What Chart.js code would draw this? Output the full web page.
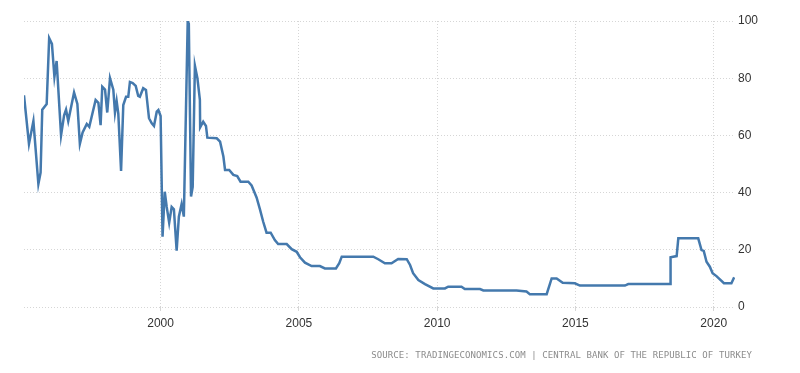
<!DOCTYPE html>
<html lang="en">
  <head>
    <meta charset="UTF-8" />
    <title>Turkey Interest Rate</title>
    <script src="https://cdn.jsdelivr.net/npm/chart.js"></script>
    <style>
      body {
        margin: 0;
        background: #fff;
      }
      #wrap {
        position: relative;
        width: 800px;
        height: 373px;
      }
      #source {
        position: absolute;
        right: 48px;
        top: 350px;
        font-family: "DejaVu Sans Mono", monospace;
        font-size: 9px;
        letter-spacing: 0.1px;
        color: #8c8c8c;
        white-space: nowrap;
      }
    </style>
  </head>
  <body>
    <div id="wrap">
      <canvas id="rateChart"></canvas>
      <div id="source">SOURCE: TRADINGECONOMICS.COM | CENTRAL BANK OF THE REPUBLIC OF TURKEY</div>
    </div>

    <script>
      // decimal years and rate (%)
      const years = [
        1995.06, 1995.24, 1995.4, 1995.58, 1995.66, 1995.72, 1995.88, 1995.97,
        1996.07, 1996.16, 1996.24, 1996.4, 1996.51, 1996.58, 1996.66, 1996.87,
        1996.99, 1997.08, 1997.18, 1997.33, 1997.42, 1997.65, 1997.75, 1997.83,
        1997.89, 1997.99, 1998.07, 1998.17, 1998.29, 1998.35, 1998.41, 1998.47,
        1998.57, 1998.65, 1998.75, 1998.83, 1998.89, 1998.99, 1999.1, 1999.19,
        1999.25, 1999.37, 1999.47, 1999.58, 1999.68, 1999.76, 1999.86, 1999.92,
        2000.0, 2000.07, 2000.15, 2000.22, 2000.31, 2000.4, 2000.48, 2000.58,
        2000.66, 2000.76, 2000.84, 2000.98, 2001.02, 2001.1, 2001.16, 2001.24,
        2001.33, 2001.42, 2001.43, 2001.54, 2001.64, 2001.69, 2002.03, 2002.15,
        2002.27, 2002.33, 2002.48, 2002.63, 2002.77, 2002.89, 2003.17, 2003.29,
        2003.47, 2003.59, 2003.71, 2003.83, 2003.98, 2004.13, 2004.25, 2004.56,
        2004.74, 2004.92, 2005.04, 2005.22, 2005.46, 2005.76, 2005.94, 2006.34,
        2006.46, 2006.55, 2007.69, 2007.87, 2008.11, 2008.35, 2008.59, 2008.9,
        2009.02, 2009.13, 2009.32, 2009.56, 2009.86, 2010.28, 2010.4, 2010.88,
        2011.0, 2011.55, 2011.67, 2012.87, 2013.23, 2013.35, 2013.96, 2014.14,
        2014.32, 2014.54, 2014.98, 2015.16, 2016.79, 2016.91, 2018.42, 2018.44,
        2018.66, 2018.72, 2019.44, 2019.56, 2019.64, 2019.74, 2019.86, 2019.96,
        2020.1, 2020.37, 2020.64, 2020.74,
      ];
      const rates = [
        74, 57, 65, 43, 47, 69, 71, 94,
        92, 80.5, 86, 60, 67, 69, 65, 75,
        71, 57, 61, 64, 63, 72.4, 71.4, 63.6,
        77, 76, 68, 80, 76, 68, 72, 67.6,
        47.6, 70.6, 73.5, 73.5, 78.7, 78.3, 77.3, 73.8,
        73.5, 76.5, 75.9, 66, 64.2, 63.3, 68.3, 68.9,
        66.8, 24.6, 40.3, 35, 29.5, 35, 34.2, 19.7,
        31.6, 36, 31.6, 100, 99, 38.6, 42, 84.4,
        80, 72.4, 62.8, 64.8, 63.3, 59.2, 59, 57.8,
        52.6, 47.9, 47.9, 46.2, 45.8, 43.8, 43.8, 42.5,
        38.3, 34.2, 29.8, 26, 26, 23.4, 22, 22,
        20.2, 19.3, 17.4, 15.5, 14.3, 14.3, 13.5, 13.5,
        15.3, 17.6, 17.6, 16.7, 15.3, 15.3, 16.8, 16.7,
        14.7, 11.8, 9.4, 8, 6.5, 6.5, 7.1, 7.1,
        6.3, 6.3, 5.8, 5.8, 5.4, 4.5, 4.5, 10,
        10, 8.5, 8.3, 7.5, 7.5, 8, 8, 17.4,
        17.8, 24, 24, 19.9, 19.6, 15.8, 14.1, 11.8,
        10.8, 8.3, 8.3, 10.4,
      ];
      const xTickYears = [2000, 2005, 2010, 2015, 2020];
      const yTickValues = [0, 20, 40, 60, 80, 100];

      const points = years.map((yr, i) => ({ x: yr, y: rates[i] }));

      const ctx = document.getElementById("rateChart").getContext("2d");
      new Chart(ctx, {
        type: "line",
        data: {
          datasets: [
            {
              label: "Interest Rate",
              data: points,
              borderColor: "#4479ad",
              borderWidth: 2.5,
              pointRadius: 0,
              tension: 0,
              fill: false,
            },
          ],
        },
        options: {
          responsive: true,
          maintainAspectRatio: false,
          animation: false,
          layout: {
            padding: { left: 24, top: 21, right: 0, bottom: 0 },
          },
          plugins: {
            legend: { display: false },
            tooltip: { enabled: false },
          },
          scales: {
            x: {
              type: "linear",
              min: 1995.06,
              max: 2020.77,
              afterBuildTicks: (scale) => {
                scale.ticks = xTickYears.map((v) => ({ value: v }));
              },
              afterFit: (scale) => {
                scale.height = 66;
              },
              grid: {
                color: "#d6d6d6",
                drawTicks: true,
                tickLength: 4,
              },
              border: { display: false, dash: [1, 2] },
              ticks: {
                color: "#333",
                padding: 5,
                maxRotation: 0,
                font: { family: "'Liberation Sans', Arial", size: 12 },
                callback: (v) => String(v),
              },
            },
            y: {
              position: "right",
              min: 0,
              max: 100,
              afterBuildTicks: (scale) => {
                scale.ticks = yTickValues.map((v) => ({ value: v }));
              },
              afterFit: (scale) => {
                scale.width = 65;
              },
              grid: {
                color: "#d6d6d6",
                drawTicks: false,
              },
              border: { display: false, dash: [1, 2] },
              ticks: {
                color: "#333",
                padding: 3,
                font: { family: "'Liberation Sans', Arial", size: 12 },
              },
            },
          },
        },
      });
    </script>
  </body>
</html>
